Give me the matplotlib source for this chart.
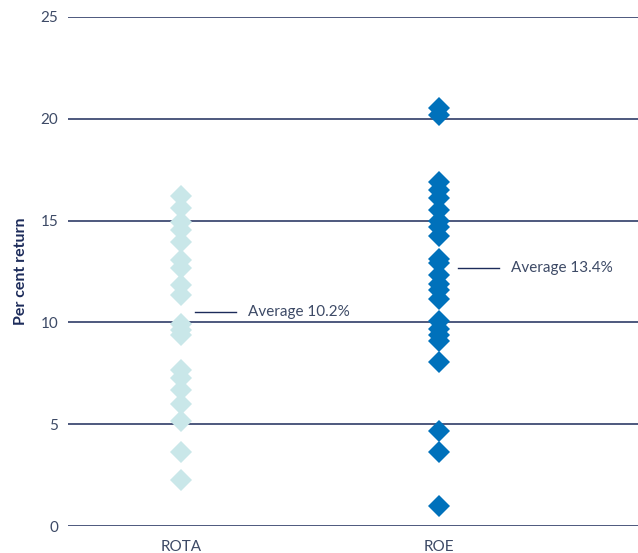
import numpy as np
import matplotlib.pyplot as plt

plt.rcParams['font.family'] = ['Lato', 'DejaVu Sans']

# Datos
categorias = ['ROTA', 'ROE']
rota = [16.2, 15.6, 14.95, 14.55, 13.95, 13.05, 12.65, 11.85, 11.35, 9.9, 9.65, 9.4,
        7.65, 7.25, 6.7, 6.0, 5.15, 3.65, 2.25]
roe = [20.55, 20.2, 16.9, 16.5, 16.1, 15.5, 15.0, 14.7, 14.25, 13.1, 12.9, 12.35,
       11.9, 11.6, 11.15, 10.05, 9.7, 9.4, 9.1, 8.05, 4.65, 3.65, 1.0]
promedios = ['Average 10.2%', 'Average 13.4%']
pos_etiqueta = [10.5, 12.65]  # altura de la etiqueta de promedio
desplaz = [0.054, 0.074]      # separación de la línea respecto a la columna
colores = ['#c9e7e9', '#0071bb']

navy = '#1c2b5a'
gris = '#3d4a66'

fig = plt.figure(figsize=(6.38, 5.53), dpi=100)
ax = fig.add_axes([0.1066, 0.0488, 0.8934, 0.9205])

for i, (valores, color) in enumerate(zip([rota, roe], colores)):
    ax.plot([i] * len(valores), valores, linestyle='none', marker='D',
            markersize=11.5, color=color, markeredgewidth=0, zorder=3)
    # línea y texto del promedio
    d = desplaz[i]
    ax.plot([i + d, i + d + 0.158], [pos_etiqueta[i]] * 2, color=navy, lw=1.0)
    ax.text(i + d + 0.205, pos_etiqueta[i], promedios[i], color=gris, fontsize=11,
            va='center', ha='left')

ax.set_xlim(-0.438, 1.771)
ax.set_ylim(0, 25)
ax.set_yticks([0, 5, 10, 15, 20, 25])
ax.set_xticks([0, 1])
ax.set_xticklabels(categorias)
ax.grid(axis='y', color=navy, linewidth=1.1, zorder=1)
ax.set_axisbelow(True)
for s in ax.spines.values():
    s.set_visible(False)
ax.tick_params(axis='both', length=0, labelsize=11, labelcolor=gris)
ax.tick_params(axis='y', pad=7)
ax.tick_params(axis='x', pad=10)
ax.set_ylabel('Per cent return', color=navy, fontsize=11.5, fontweight='bold')
ax.yaxis.set_label_coords(-0.071, 0.5)

plt.savefig('out.png', dpi=100)
